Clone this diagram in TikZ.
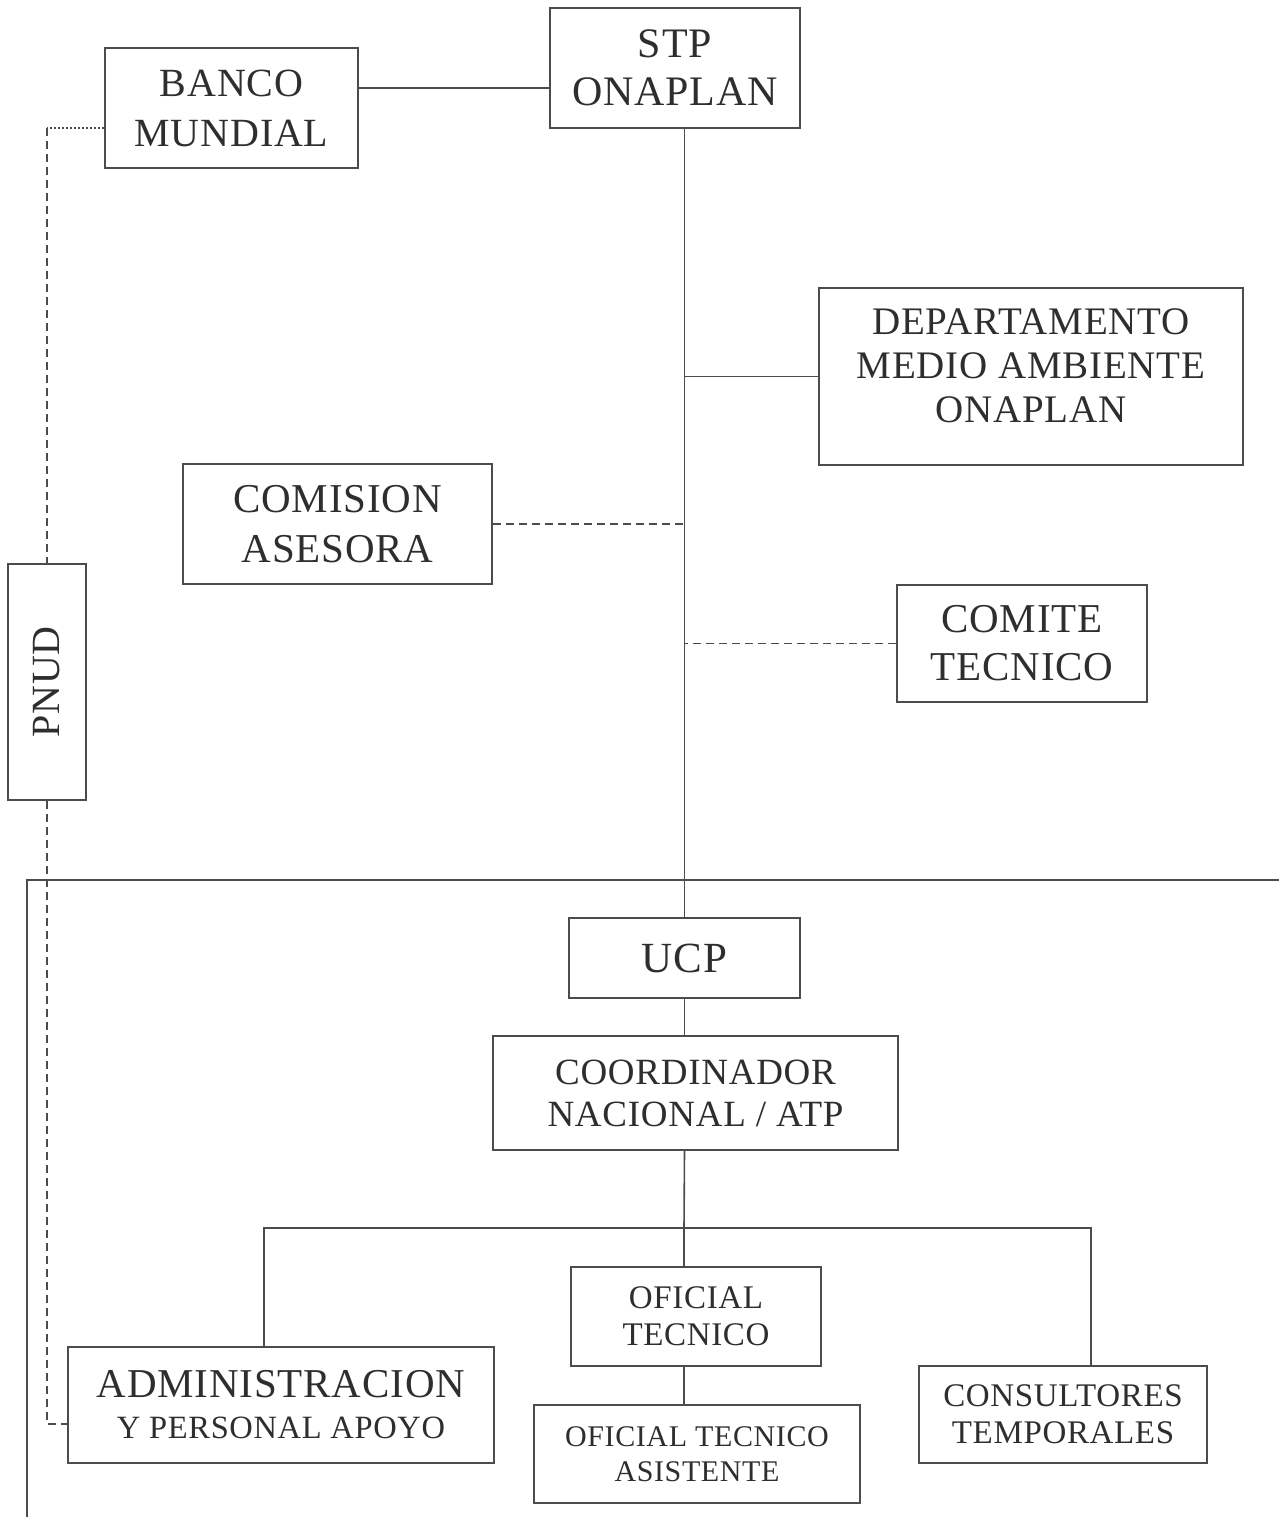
\documentclass[tikz,border=0pt]{standalone}
\usepackage{fontspec}
\setmainfont{Liberation Serif}[LetterSpace=2]
\usepackage{graphicx}
\definecolor{ink}{gray}{0.3}
\definecolor{txt}{gray}{0.18}
\begin{document}
\begin{tikzpicture}[x=1pt,y=-1pt,
  box/.style={draw=ink,line width=1.8pt,inner sep=0pt,align=center,text=txt},
  conn/.style={draw=ink,line width=1.6pt},
  dconn/.style={draw=ink,line width=1.6pt,dash pattern=on 8pt off 5pt},
  dotconn/.style={draw=ink,line width=1.4pt,dash pattern=on 2pt off 2pt},
  fs/.style 2 args={font=\fontsize{#1}{#2}\selectfont}]
\useasboundingbox (0,0) rectangle (1279,1517);
\fill[white] (0,0) rectangle (1279,1517);
% nodes
\node[box,fs={42}{48},minimum width=250,minimum height=120] (stp) at (675,68) {STP\\ONAPLAN};
\node[box,fs={40}{50},minimum width=253,minimum height=120] (banco) at (231.5,108) {BANCO\\MUNDIAL};
\node[box,fs={39}{44},minimum width=424,minimum height=177,text depth=22pt] (dept) at (1031,376.5) {DEPARTAMENTO\\MEDIO AMBIENTE\\ONAPLAN};
\node[box,fs={41}{50},minimum width=309,minimum height=120] (comision) at (337.5,524) {COMISION\\ASESORA};
\node[box,fs={41}{48},minimum width=250,minimum height=117] (comite) at (1022,643.5) {COMITE\\TECNICO};
\node[box,fs={40}{40},minimum width=78,minimum height=236] (pnud) at (47,682) {\rotatebox{90}{PNUD}};
\node[box,fs={43}{48},minimum width=231,minimum height=80] (ucp) at (684.5,958) {UCP};
\node[box,fs={37}{42},minimum width=405,minimum height=114] (coord) at (695.5,1093) {COORDINADOR\\NACIONAL / ATP};
\node[box,fs={41}{41},minimum width=426,minimum height=116] (admin) at (281,1405) {ADMINISTRACION\\{\fontsize{32.5}{41}\selectfont Y PERSONAL APOYO}};
\node[box,fs={33}{37},minimum width=250,minimum height=99] (ofic) at (696,1316.5) {OFICIAL\\TECNICO};
\node[box,fs={30}{35},minimum width=326,minimum height=98] (ofta) at (697,1454) {OFICIAL TECNICO\\ASISTENTE};
\node[box,fs={33}{37},minimum width=288,minimum height=97] (cons) at (1063,1414.5) {CONSULTORES\\TEMPORALES};
% coordinates
\coordinate (bl) at (47,128);
\coordinate (pl) at (47,1424);
\coordinate (fa) at (27,1517);
\coordinate (fb) at (27,880);
\coordinate (fc) at (1279,880);
\coordinate (bar) at (684,1228);
% connectors
\draw[conn] (banco.east |- 0,88) -- (stp.west |- 0,88);
\draw[conn] (ucp.north |- stp.south) -- (ucp.north);
\draw[conn] (dept.west) -- (dept.west -| ucp.north);
\draw[dconn] (comision.east) -- (comision.east -| ucp.north);
\draw[dconn] (comite.west) -- (comite.west -| ucp.north);
\draw[dotconn] (banco.west |- bl) -- (bl);
\draw[dconn] (bl) -- (pnud.north);
\draw[dconn] (pnud.south) -- (pl) -- (admin.west |- pl);
\draw[conn] (fa) -- (fb) -- (fc);
\draw[conn] (ucp.south) -- (ucp.south |- coord.north);
\draw[conn] (ucp.south |- coord.south) -- (bar);
\draw[conn] (bar) -- (ofic.north -| bar);
\draw[conn] (admin.north -| 264,0) |- (bar) -| (cons.north -| 1091,0);
\draw[conn] (ofic.south -| bar) -- (ofta.north -| bar);
\end{tikzpicture}
\end{document}
